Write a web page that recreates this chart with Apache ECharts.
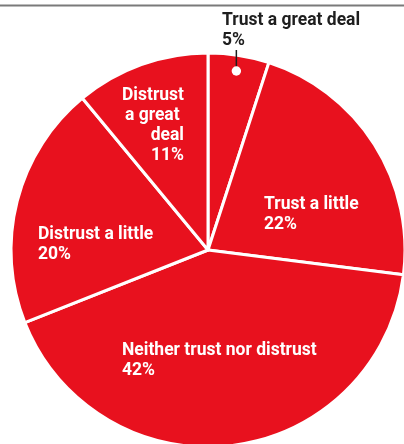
<!DOCTYPE html>
<html>
<head>
<meta charset="utf-8">
<script src="https://cdn.jsdelivr.net/npm/echarts@6/dist/echarts.min.js"></script>
<style>
html,body{margin:0;padding:0;background:#fff;}
#c{width:404px;height:444px;}
</style>
</head>
<body>
<div id="c"></div>
<script>
var categories = ['Trust a great deal', 'Trust a little', 'Neither trust nor distrust', 'Distrust a little', 'Distrust a great deal'];
var values = [5, 22, 42, 20, 11];

var RED = '#E8111E';
var CX = 208, CY = 250, R = 197;
var total = values.reduce(function (a, b) { return a + b; }, 0);
var midFirst = values[0] / 2; // middle of the first slice, in value units
var dotR = 0.92;
var leaderTop = 50;

var labelAnchors = [
  { x: 222, y: 11, align: 'left' },
  { x: 264, y: 195, align: 'left' },
  { x: 122, y: 341, align: 'left' },
  { x: 38, y: 225, align: 'left' },
  { x: 184, y: 86, align: 'right' }
];

var chart = echarts.init(document.getElementById('c'), null, { renderer: 'canvas' });
var option = {
  animation: false,
  backgroundColor: '#fff',
  graphic: [{
    type: 'line',
    shape: { x1: 0, y1: 5.5, x2: 404, y2: 5.5 },
    style: { stroke: '#7a7a7a', lineWidth: 2 }
  }],
  polar: { center: [CX, CY], radius: R },
  angleAxis: { type: 'value', min: 0, max: total, startAngle: 90, clockwise: true, show: false },
  radiusAxis: { type: 'value', min: 0, max: 1, show: false },
  series: [{
    type: 'pie',
    center: [CX, CY],
    radius: R,
    startAngle: 90,
    clockwise: true,
    avoidLabelOverlap: false,
    z: 2,
    itemStyle: { color: RED, borderColor: '#fff', borderWidth: 3 },
    label: {
      show: true,
      position: 'inside',
      color: '#fff',
      fontFamily: 'Roboto',
      fontWeight: 'bold',
      fontSize: 17.5,
      lineHeight: 20,
      formatter: function (p) { return p.name + '\n' + p.value + '%'; }
    },
    labelLine: { show: false },
    emphasis: { disabled: true },
    labelLayout: function (params) {
      var a = labelAnchors[params.dataIndex];
      return { x: a.x, y: a.y, align: a.align, verticalAlign: 'top' };
    },
    data: categories.map(function (name, i) {
      var item = { name: name, value: values[i] };
      if (i === 0) {
        item.label = { position: 'inside', color: '#1e1e1e', width: 200, overflow: 'none' };
      }
      if (i === 4) {
        item.label = { width: 66, overflow: 'break', align: 'right' };
      }
      return item;
    })
  }, {
    type: 'custom',
    coordinateSystem: 'polar',
    z: 10,
    silent: true,
    renderItem: function (params, api) {
      var p = api.coord([api.value(0), api.value(1)]);
      return {
        type: 'group',
        children: [{
          type: 'line',
          shape: { x1: p[0], y1: p[1], x2: p[0], y2: leaderTop },
          style: { stroke: '#1e1e1e', lineWidth: 1.5 }
        }, {
          type: 'circle',
          shape: { cx: p[0], cy: p[1], r: 4.7 },
          style: { fill: '#fff' }
        }]
      };
    },
    data: [[dotR, midFirst]]
  }]
};
chart.setOption(option);
</script>
</body>
</html>
